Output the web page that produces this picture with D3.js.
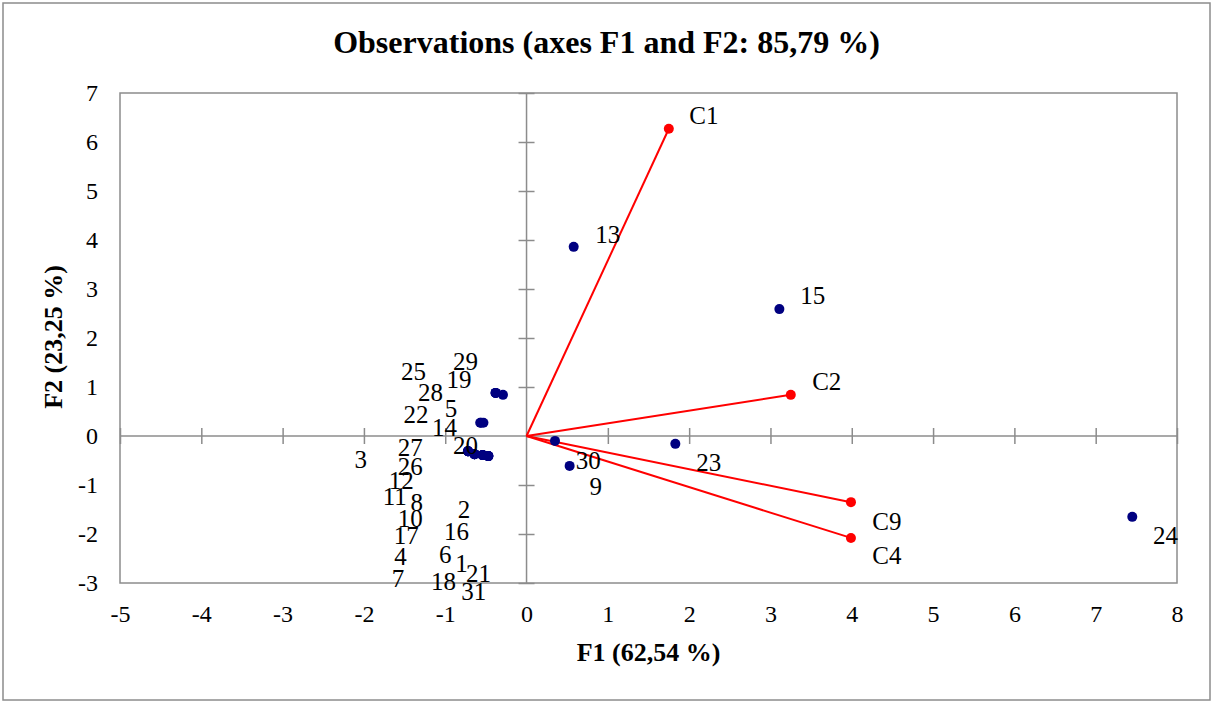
<!DOCTYPE html>
<html>
<head>
<meta charset="utf-8">
<script src="https://cdn.jsdelivr.net/npm/d3@7"></script>
<style>
  html, body { margin: 0; padding: 0; background: #fff; }
  svg { display: block; font-family: "Liberation Serif", "Times New Roman", serif; }
</style>
</head>
<body>
<svg id="chart" width="1213" height="702"></svg>
<script>
// Observation scores on the first two factors
const obsIds = ["1","2","3","4","5","6","7","8","9","10","11","12","13","14","15","16",
                "17","18","19","20","21","22","23","24","25","26","27","28","29","30","31"];
const obsF1 = [-0.54,-0.47,-0.72,-0.64,-0.53,-0.54,-0.64,-0.64, 0.53,-0.64,-0.72,-0.72, 0.58,-0.56, 3.11,-0.47,
               -0.64,-0.54,-0.38,-0.72,-0.47,-0.57, 1.83, 7.45,-0.38,-0.72,-0.72,-0.38,-0.29, 0.35,-0.47];
const obsF2 = [-0.39,-0.41,-0.31,-0.37, 0.27,-0.39,-0.37,-0.37,-0.61,-0.37,-0.31,-0.31, 3.86, 0.27, 2.59,-0.41,
               -0.37,-0.39, 0.88,-0.31,-0.41, 0.27,-0.16,-1.65, 0.88,-0.31,-0.31, 0.88, 0.84,-0.10,-0.41];

// Where the label of each observation sits (in F1/F2 units)
const obsLabelF1 = [-0.80,-0.77,-2.04,-1.55,-0.93,-1.00,-1.58,-1.35, 0.85,-1.43,-1.62,-1.54, 1.00,-1.01, 3.52,-0.86,
                    -1.48,-1.02,-0.83,-0.75,-0.59,-1.36, 2.24, 7.86,-1.39,-1.43,-1.43,-1.18,-0.75, 0.76,-0.65];
const obsLabelF2 = [-2.60,-1.51,-0.48,-2.46, 0.57,-2.41,-2.90,-1.36,-1.04,-1.68,-1.24,-0.91, 4.12, 0.18, 2.86,-1.95,
                    -2.04,-2.97, 1.16,-0.20,-2.80, 0.43,-0.55,-2.04, 1.31,-0.63,-0.23, 0.88, 1.52,-0.51,-3.18];

// Active variables drawn as vectors from the origin
const varNames = ["C1", "C2", "C9", "C4"];
const varF1 = [1.75, 3.25, 3.99, 3.99];
const varF2 = [6.27, 0.84, -1.35, -2.08];
const varLabelDx = [35, 36, 36, 36];
const varLabelDy = [-13, -13, 19, 18];

const xTicks = [-5, -4, -3, -2, -1, 0, 1, 2, 3, 4, 5, 6, 7, 8];
const yTicks = [-3, -2, -1, 0, 1, 2, 3, 4, 5, 6, 7];

const titleText = "Observations (axes F1 and F2: 85,79 %)";
const xTitle = "F1 (62,54 %)";
const yTitle = "F2 (23,25 %)";

const svg = d3.select("#chart");
const W = 1213, H = 702;
const plot = { left: 120, right: 1177, top: 93, bottom: 583 };
const grey = "#8c8c8c";
const plainNumber = d => String(d);

// Outer frame
svg.append("rect")
  .attr("x", 3).attr("y", 3).attr("width", W - 6).attr("height", H - 5)
  .attr("fill", "#fff").attr("stroke", grey).attr("stroke-width", 1.5);

const x = d3.scaleLinear().domain([-5, 8]).range([plot.left, plot.right]);
const y = d3.scaleLinear().domain([-3, 7]).range([plot.bottom, plot.top]);

// Plot area border
svg.append("rect")
  .attr("x", plot.left).attr("y", plot.top)
  .attr("width", plot.right - plot.left).attr("height", plot.bottom - plot.top)
  .attr("fill", "none").attr("stroke", grey).attr("stroke-width", 1.5);

// Tick labels on the left and bottom edges
const yAxis = svg.append("g")
  .attr("transform", `translate(${plot.left},0)`)
  .call(d3.axisLeft(y).tickValues(yTicks).tickSize(0).tickPadding(22).tickFormat(plainNumber));
yAxis.select(".domain").remove();
yAxis.selectAll("text").attr("font-size", 24).attr("font-family", "Liberation Serif").attr("fill", "#000");

const xAxis = svg.append("g")
  .attr("transform", `translate(0,${plot.bottom})`)
  .call(d3.axisBottom(x).tickValues(xTicks).tickSize(0).tickPadding(22).tickFormat(plainNumber));
xAxis.select(".domain").remove();
xAxis.selectAll("text").attr("font-size", 24).attr("font-family", "Liberation Serif").attr("fill", "#000");

// Axes through the origin with crossing tick marks
const x0 = x(0), y0 = y(0);
svg.append("line").attr("x1", plot.left).attr("x2", plot.right).attr("y1", y0).attr("y2", y0)
  .attr("stroke", grey).attr("stroke-width", 1.5);
svg.append("line").attr("x1", x0).attr("x2", x0).attr("y1", plot.top).attr("y2", plot.bottom)
  .attr("stroke", grey).attr("stroke-width", 1.5);

const cross = svg.append("g")
  .attr("transform", `translate(0,${y0 - 8})`)
  .call(d3.axisBottom(x).tickValues(xTicks.filter(d => d !== 0)).tickSize(16).tickFormat(""));
cross.select(".domain").remove();
cross.selectAll("line").attr("stroke", grey).attr("stroke-width", 1.5);

const crossY = svg.append("g")
  .attr("transform", `translate(${x0 + 8},0)`)
  .call(d3.axisLeft(y).tickValues(yTicks.filter(d => d !== 0)).tickSize(16).tickFormat(""));
crossY.select(".domain").remove();
crossY.selectAll("line").attr("stroke", grey).attr("stroke-width", 1.5);

// Variable vectors
const vars = varNames.map((n, i) => ({ name: n, f1: varF1[i], f2: varF2[i], dx: varLabelDx[i], dy: varLabelDy[i] }));
svg.append("g").selectAll("line").data(vars).join("line")
  .attr("x1", x(0)).attr("y1", y(0))
  .attr("x2", d => x(d.f1)).attr("y2", d => y(d.f2))
  .attr("stroke", "#ff0000").attr("stroke-width", 2);
svg.append("g").selectAll("circle").data(vars).join("circle")
  .attr("cx", d => x(d.f1)).attr("cy", d => y(d.f2)).attr("r", 5)
  .attr("fill", "#ff0000");
svg.append("g").selectAll("text").data(vars).join("text")
  .attr("x", d => x(d.f1) + d.dx).attr("y", d => y(d.f2) + d.dy)
  .attr("text-anchor", "middle").attr("dominant-baseline", "central")
  .attr("font-size", 25).attr("fill", "#000")
  .text(d => d.name);

// Observations
const obs = obsIds.map((id, i) => ({ id, f1: obsF1[i], f2: obsF2[i], lx: obsLabelF1[i], ly: obsLabelF2[i] }));
svg.append("g").selectAll("circle").data(obs).join("circle")
  .attr("cx", d => x(d.f1)).attr("cy", d => y(d.f2)).attr("r", 5)
  .attr("fill", "#000080");
svg.append("g").selectAll("text").data(obs).join("text")
  .attr("x", d => x(d.lx)).attr("y", d => y(d.ly))
  .attr("text-anchor", "middle").attr("dominant-baseline", "central")
  .attr("font-size", 25).attr("fill", "#000")
  .text(d => d.id);

// Titles
svg.append("text").attr("x", 606.5).attr("y", 42)
  .attr("text-anchor", "middle").attr("dominant-baseline", "central")
  .attr("font-size", 32).attr("font-weight", "bold").text(titleText);
svg.append("text").attr("x", 648.5).attr("y", 652)
  .attr("text-anchor", "middle").attr("dominant-baseline", "central")
  .attr("font-size", 26).attr("font-weight", "bold").text(xTitle);
svg.append("text")
  .attr("transform", `translate(53,337) rotate(-90)`)
  .attr("text-anchor", "middle").attr("dominant-baseline", "central")
  .attr("font-size", 26).attr("font-weight", "bold").text(yTitle);
</script>
</body>
</html>
